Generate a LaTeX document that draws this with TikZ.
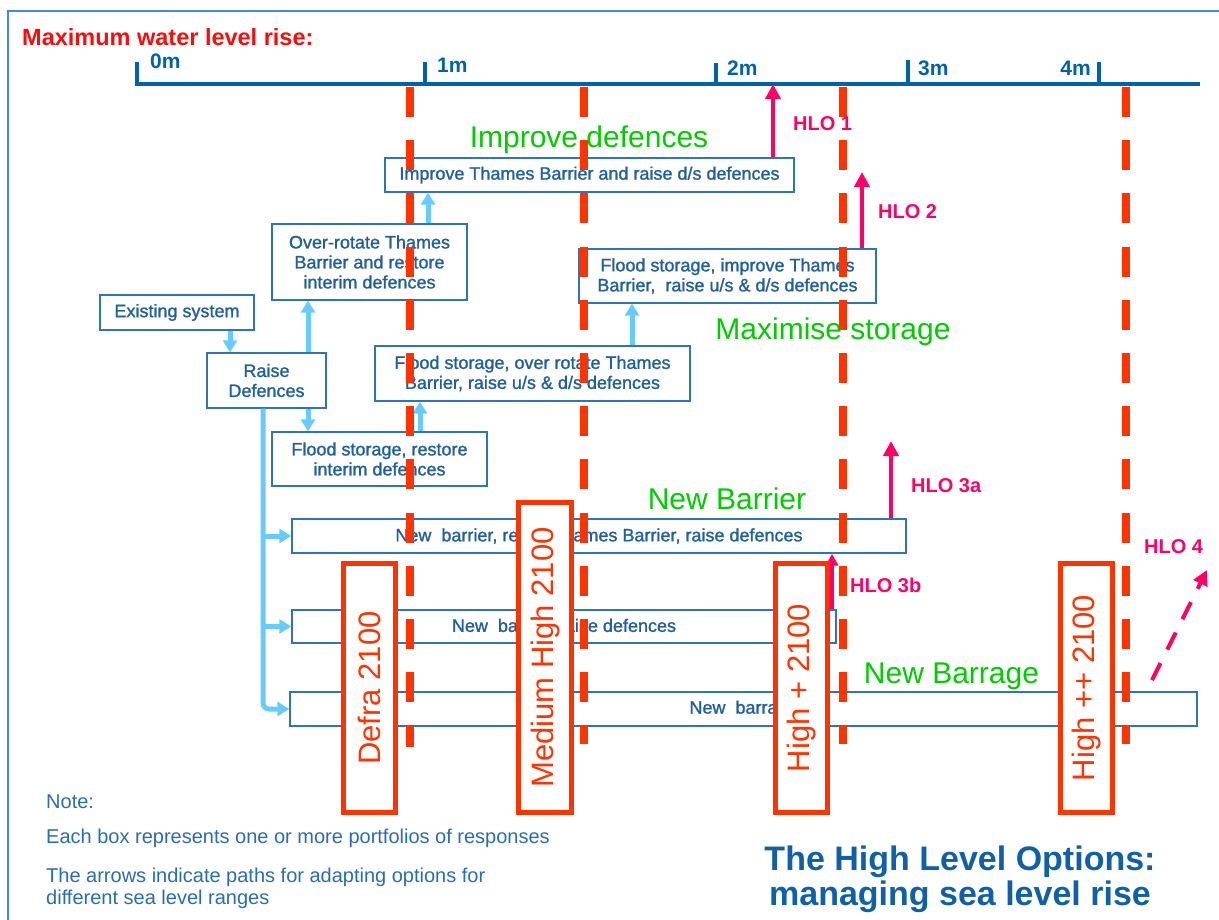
\documentclass[tikz,border=0pt]{standalone}
\usepackage{fontspec}
\setmainfont{Liberation Sans}
\newfontfamily\boxfont{Liberation Sans}[FakeBold=1.2]
\usetikzlibrary{arrows.meta}
\definecolor{boxblue}{RGB}{46,117,182}
\definecolor{textblue}{RGB}{31,94,160}
\definecolor{noteblue}{RGB}{40,108,178}
\definecolor{axisblue}{RGB}{0,99,168}
\definecolor{titleblue}{RGB}{16,96,168}
\definecolor{lightblue}{RGB}{102,204,255}
\definecolor{redor}{RGB}{255,51,0}
\definecolor{redtitle}{RGB}{255,10,10}
\definecolor{hlopink}{RGB}{255,0,102}
\definecolor{labgreen}{RGB}{0,204,0}
\definecolor{framecol}{RGB}{70,140,200}
\begin{document}
\begin{tikzpicture}[x=1pt,y=-1pt,
  every node/.style={inner sep=0pt},
  bbox/.style={draw=boxblue, line width=1.3pt, fill=white, text=textblue,
    font=\boxfont\fontsize{18}{20}\selectfont, align=center},
  lbarrow/.style={draw=lightblue, line width=5pt, -{Triangle[width=14pt,length=12pt]}},
  redbox/.style={draw=redor, line width=5pt, fill=white, text=redor,
    font=\fontsize{31}{31}\selectfont, rotate=90},
  greenlab/.style={text=labgreen, font=\fontsize{30}{30}\selectfont, anchor=base},
  hlolab/.style={text=hlopink, font=\bfseries\fontsize{20}{20}\selectfont, anchor=base west},
  pinkarrow/.style={draw=hlopink, line width=4pt, -{Triangle[width=15pt,length=15pt]}},
  reddash/.style={draw=redor, line width=8pt, dash pattern=on 30pt off 23.2pt},
  axisline/.style={draw=axisblue, line width=4.5pt},
  axislab/.style={text=axisblue, font=\bfseries\fontsize{21}{21}\selectfont, anchor=base west},
  notetext/.style={text=noteblue, font=\fontsize{20}{22}\selectfont, anchor=base west},
  titletext/.style={text=titleblue, font=\bfseries\fontsize{34}{35}\selectfont, anchor=base}
]
\useasboundingbox (0,0) rectangle (1219,919);
% frame
\draw[framecol, line width=1.2pt] (8,930) -- (8,11) -- (1230,11);

% title
\node[text=redtitle, font=\bfseries\fontsize{23.5}{24}\selectfont, anchor=base west] (maxt) at (22,45) {Maximum water level rise:};

% axis
\coordinate (axisL) at (137,84);
\coordinate (axisR) at (1200,84);
\draw[axisline] (137,62) -- (axisL) -- (axisR);
\draw[axisline] (425,62) -- (425,84);
\draw[axisline] (716,63) -- (716,84);
\draw[axisline] (908,60) -- (908,84);
\draw[axisline] (1099,62) -- (1099,84);
\node[axislab] (m0) at (150,68) {0m};
\node[axislab] (m1) at (437,72) {1m};
\node[axislab] (m2) at (727,75) {2m};
\node[axislab] (m3) at (918,75) {3m};
\node[axislab, anchor=base east] (m4) at (1091,75) {4m};

% blue boxes
\node[bbox, minimum width=154pt, minimum height=35pt] (exist) at (177,312.5) {Existing system};
\node[bbox, minimum width=119pt, minimum height=55pt] (raise) at (266.5,380.5) {Raise\\Defences};
\node[bbox, minimum width=195pt, minimum height=76pt] (overrot) at (369.5,262) {Over-rotate Thames\\Barrier and restore\\interim defences};
\node[bbox, minimum width=215pt, minimum height=54pt] (fsrest) at (379.5,459) {Flood storage, restore\\interim defences};
\node[bbox, minimum width=315pt, minimum height=55pt] (fsover) at (532.5,373.5) {Flood storage, over rotate Thames\\Barrier, raise u/s \& d/s defences};
\node[bbox, minimum width=297pt, minimum height=54pt] (fsimp) at (727.5,276) {Flood storage, improve Thames\\Barrier,\ \ raise u/s \& d/s defences};
\node[bbox, minimum width=409pt, minimum height=34pt] (improve) at (589.5,175) {Improve Thames Barrier and raise d/s defences};
\node[bbox, minimum width=614pt, minimum height=34pt] (newbar1) at (599,536) {New\ \ barrier, retain Thames Barrier, raise defences};
\node[bbox, minimum width=544pt, minimum height=33pt] (newbar2) at (564,626.5) {New\ \ barrier, raise defences};
\node[bbox, minimum width=907pt, minimum height=34pt] (newbarrage) at (743.5,709) {New\ \ barrage};

% light blue arrows
\coordinate (a1) at (230,0);
\coordinate (a2) at (308,0);
\coordinate (a3) at (420,0);
\coordinate (a4) at (428,0);
\coordinate (a5) at (632,0);
\coordinate (trunk) at (263,0);
\draw[lbarrow] (exist.south -| a1) -- (raise.north -| a1);
\draw[lbarrow] (raise.north -| a2) -- (overrot.south -| a2);
\draw[lbarrow] (raise.south -| a2) -- (fsrest.north -| a2);
\draw[lbarrow] (fsrest.north -| a3) -- (fsover.south -| a3);
\draw[lbarrow] (overrot.north -| a4) -- (improve.south -| a4);
\draw[lbarrow] (fsover.north -| a5) -- (fsimp.south -| a5);
\draw[lbarrow, rounded corners=6pt] (raise.south -| trunk) |- (newbarrage.west);
\draw[lbarrow] (trunk |- newbar1.west) -- (newbar1.west);
\draw[lbarrow] (trunk |- newbar2.west) -- (newbar2.west);

% green labels
\node[greenlab] (gimp) at (589,147) {Improve defences};
\node[greenlab] (gmax) at (833,339) {Maximise storage};
\node[greenlab] (gnb) at (727,509) {New Barrier};
\node[greenlab] (gnbg) at (951.5,683) {New Barrage};

% red dashed lines
\draw[reddash] (410,87) -- (410,747);
\draw[reddash] (584,87) -- (584,744);
\draw[reddash] (843,87) -- (843,744);
\draw[reddash] (1126,87) -- (1126,744);

% pink HLO arrows
\coordinate (h1) at (773,0);
\coordinate (h2tip) at (862,172);
\coordinate (h3atip) at (891,441);
\coordinate (h3b) at (832,0);
\coordinate (h4s) at (1152,680);
\coordinate (h4t) at (1207,570);
\draw[pinkarrow] (improve.north -| h1) -- (axisR -| h1);
\draw[pinkarrow] (fsimp.north -| h2tip) -- (h2tip);
\draw[pinkarrow] (newbar1.north -| h3atip) -- (h3atip);
\draw[pinkarrow, -{Triangle[width=12pt,length=12pt]}] (newbar2.north -| h3b) -- (newbar1.south -| h3b);
\draw[pinkarrow, dash pattern=on 19pt off 15pt] (h4s) -- (h4t);
\node[hlolab] (l1) at (793,130) {HLO 1};
\node[hlolab] (l2) at (878,218) {HLO 2};
\node[hlolab] (l3a) at (911,492) {HLO 3a};
\node[hlolab] (l3b) at (850,592) {HLO 3b};
\node[hlolab] (l4) at (1144,553) {HLO 4};

% red scenario boxes
\node[redbox, minimum width=249pt, minimum height=52pt] (defra) at (369.5,688) {Defra 2100};
\node[redbox, minimum width=310pt, minimum height=53pt] (medhigh) at (545,657.5) {Medium High 2100};
\node[redbox, minimum width=249pt, minimum height=52pt] (highp) at (801.5,688) {High + 2100};
\node[redbox, minimum width=249pt, minimum height=52pt] (highpp) at (1086.5,688) {High ++ 2100};

% notes
\node[notetext] (n1) at (46,808) {Note:};
\node[notetext] (n2) at (46,843) {Each box represents one or more portfolios of responses};
\node[notetext] (n3) at (46,882) {The arrows indicate paths for adapting options for};
\node[notetext] (n4) at (46,904) {different sea level ranges};

% title
\node[titletext] (t1) at (960,870) {The High Level Options:};
\node[titletext] (t2) at (960,905) {managing sea level rise};
\end{tikzpicture}
\end{document}
